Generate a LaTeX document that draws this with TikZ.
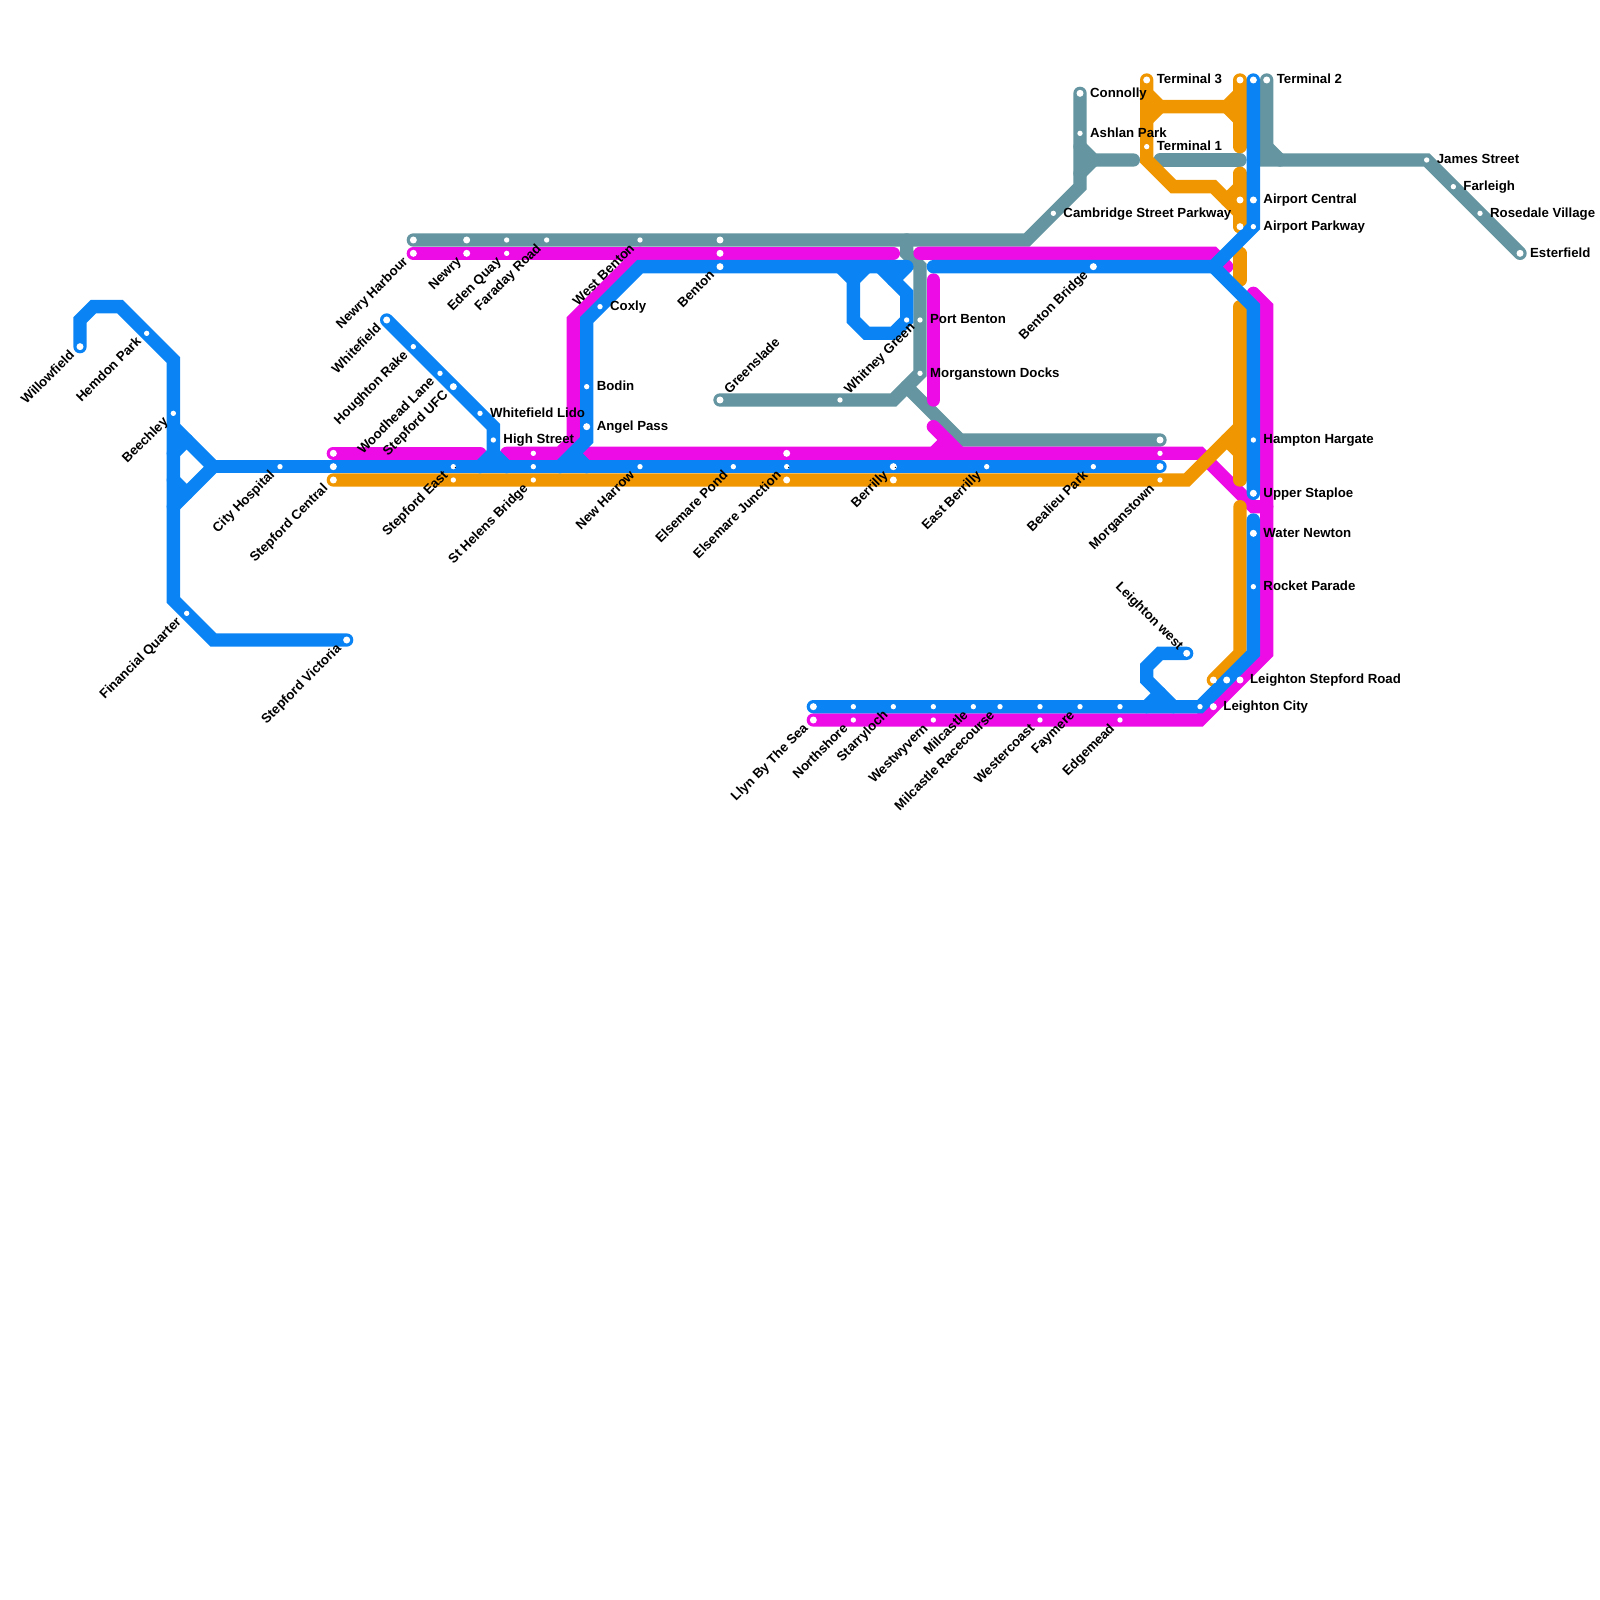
\documentclass[tikz,border=0pt]{standalone}
\usepackage{fontspec}
\setmainfont{Liberation Sans}
\usetikzlibrary{backgrounds}
\definecolor{C1}{RGB}{10,132,245}
\definecolor{C2}{RGB}{238,12,230}
\definecolor{C3}{RGB}{240,150,0}
\definecolor{C4}{RGB}{100,149,160}
\tikzset{
  ln/.style={line width=0.2cm, line cap=round, line join=miter},
  blueln/.style={ln, draw=C1},
  pinkln/.style={ln, draw=C2},
  orangeln/.style={ln, draw=C3},
  greyln/.style={ln, draw=C4},
  bigstop/.style={circle, fill=white, inner sep=0pt, minimum size=0.105cm},
  stop/.style={circle, fill=white, inner sep=0pt, minimum size=0.08cm},
  speck/.style={circle, fill=black, inner sep=0pt, minimum size=0.018cm},
  tag/.style={inner sep=0pt, text=black, font=\fontsize{5.65}{6}\selectfont\bfseries},
  tagr/.style={tag, anchor=base west, xshift=0.145cm, yshift=-0.057cm},
  tagl/.style={tag, anchor=base east, rotate=45, xshift=-0.1425cm, yshift=-0.0475cm},
  tagu/.style={tag, anchor=base west, rotate=45, xshift=0.155cm, yshift=-0.04cm},
  tagd/.style={tag, anchor=base east, rotate=-45, xshift=-0.1145cm, yshift=-0.0605cm}
}
\begin{document}
\begin{tikzpicture}[x=0.2cm, y=-0.2cm]
\useasboundingbox (0,0) rectangle (120,120);

% stations on the west side
\node[bigstop] (willowfield) at (6,26) {};
\node[stop] (hemdon) at (11,25) {};
\node[stop] (beechley) at (13,31) {};
\node[stop] (cityhosp) at (21,35) {};
\node[bigstop] (stepcentralm) at (25,34) {};
\node[bigstop] (stepcentralb) at (25,35) {};
\node[bigstop] (stepcentralo) at (25,36) {};
\node[stop] (finquarter) at (14,46) {};
\node[bigstop] (stepvictoria) at (26,48) {};
\node[bigstop] (whitefield) at (29,24) {};
\node[stop] (houghton) at (31,26) {};
\node[stop] (woodhead) at (33,28) {};
\node[bigstop] (stepufc) at (34,29) {};
\node[stop] (lido) at (36,31) {};
\node[stop] (highst) at (37,33) {};
\node[stop] (stepeastb) at (34,35) {};
\node[stop] (stepeasto) at (34,36) {};
\node[speck] (stepeasts) at (34.15,35.05) {};
\node[stop] (helensm) at (40,34) {};
\node[stop] (helensb) at (40,35) {};
\node[stop] (helenso) at (40,36) {};

% stations along the top
\node[bigstop] (newryhg) at (31,18) {};
\node[bigstop] (newryhm) at (31,19) {};
\node[bigstop] (newryg) at (35,18) {};
\node[bigstop] (newrym) at (35,19) {};
\node[stop] (edeng) at (38,18) {};
\node[stop] (edenm) at (38,19) {};
\node[stop] (faraday) at (41,18) {};
\node[stop] (westbenton) at (48,18) {};
\node[bigstop] (bentong) at (54,18) {};
\node[bigstop] (bentonm) at (54,19) {};
\node[bigstop] (bentonb) at (54,20) {};
\node[stop] (coxly) at (45,23) {};
\node[stop] (bodin) at (44,29) {};
\node[bigstop] (angel) at (44,32) {};

% stations along the middle
\node[stop] (newharrow) at (48,35) {};
\node[stop] (elspond) at (55,35) {};
\node[bigstop] (elsjuncm) at (59,34) {};
\node[stop] (elsjuncb) at (59,35) {};
\node[bigstop] (elsjunco) at (59,36) {};
\node[speck] (elsjuncs) at (59.15,35.05) {};
\node[bigstop] (berrillyb) at (67,35) {};
\node[bigstop] (berrillyo) at (67,36) {};
\node[speck] (berrillys) at (67.15,35.05) {};
\node[stop] (eastberrilly) at (74,35) {};
\node[stop] (bealieu) at (82,35) {};
\node[bigstop] (morgang) at (87,33) {};
\node[stop] (morganm) at (87,34) {};
\node[bigstop] (morganb) at (87,35) {};
\node[stop] (morgano) at (87,36) {};
\node[bigstop] (greenslade) at (54,30) {};
\node[stop] (whitney) at (63,30) {};
\node[stop] (portbentonb) at (68,24) {};
\node[stop] (portbenton) at (69,24) {};
\node[stop] (docks) at (69,28) {};
\node[bigstop] (bentonbridge) at (82,20) {};

% stations at the airport
\node[stop] (cambridge) at (79,16) {};
\node[bigstop] (connolly) at (81,7) {};
\node[stop] (ashlan) at (81,10) {};
\node[bigstop] (terminalc) at (86,6) {};
\node[stop] (terminala) at (86,11) {};
\node[bigstop] (terminalbo) at (93,6) {};
\node[bigstop] (terminalbb) at (94,6) {};
\node[bigstop] (terminalb) at (95,6) {};
\node[bigstop] (aircentralo) at (93,15) {};
\node[bigstop] (aircentral) at (94,15) {};
\node[bigstop] (airparkwayo) at (93,17) {};
\node[stop] (airparkway) at (94,17) {};
\node[stop] (james) at (107,12) {};
\node[stop] (farleigh) at (109,14) {};
\node[stop] (rosedale) at (111,16) {};
\node[bigstop] (esterfield) at (114,19) {};

% stations on the east and south side
\node[stop] (hampton) at (94,33) {};
\node[bigstop] (staploe) at (94,37) {};
\node[bigstop] (water) at (94,40) {};
\node[stop] (rocket) at (94,44) {};
\node[bigstop] (leightonw) at (89,49) {};
\node[bigstop] (leightonso) at (91,51) {};
\node[bigstop] (leightonsb) at (92,51) {};
\node[bigstop] (leightons) at (93,51) {};
\node[stop] (leightonc) at (90,53) {};
\node[bigstop] (leightoncm) at (91,53) {};
\node[bigstop] (llynb) at (61,53) {};
\node[bigstop] (llynm) at (61,54) {};
\node[stop] (northb) at (64,53) {};
\node[stop] (northm) at (64,54) {};
\node[stop] (starry) at (67,53) {};
\node[stop] (westwb) at (70,53) {};
\node[stop] (westwm) at (70,54) {};
\node[stop] (milcastle) at (73,53) {};
\node[stop] (racecourse) at (75,53) {};
\node[stop] (westcb) at (78,53) {};
\node[stop] (westcm) at (78,54) {};
\node[stop] (faymere) at (81,53) {};
\node[stop] (edgeb) at (84,53) {};
\node[stop] (edgem) at (84,54) {};

\begin{scope}[on background layer]
% grey
\draw[greyln] (newryhg.center) -- (77,18) -- (81,14) -- (connolly.center);
\draw[greyln] (81,11) -- (82,12) -- (85,12);
\draw[greyln] (81,13) -- (82,12);
\draw[greyln] (87,12) -- (93,12);
\draw[greyln] (terminalb.center) -- (95,12) -- (james.center) -- (esterfield.center);
\draw[greyln] (95,11) -- (96,12);
\draw[greyln] (68,18) -- (68,19) -- (69,20) -- (69,28) -- (67,30) -- (greenslade.center);
\draw[greyln] (68,29) -- (72,33) -- (morgang.center);
% magenta
\draw[pinkln] (newryhm.center) -- (67,19);
\draw[pinkln] (48,19) -- (43,24) -- (43,33) -- (42,34) -- (38,34);
\draw[pinkln] (69,19) -- (91,19) -- (92,20);
\draw[pinkln] (stepcentralm.center) -- (36,34);
\draw[pinkln] (44,34) -- (90,34) -- (94,38) -- (95,38);
\draw[pinkln] (70,21) -- (70,30);
\draw[pinkln] (70,32) -- (72,34);
\draw[pinkln] (70,34) -- (71,33);
\draw[pinkln] (94,22) -- (95,23) -- (95,49) -- (90,54) -- (llynm.center);
% orange
\draw[orangeln] (stepcentralo.center) -- (89,36) -- (93,32);
\draw[orangeln] (93,23) -- (93,36);
\draw[orangeln] (92,33) -- (93,34);
\draw[orangeln] (93,38) -- (93,49) -- (leightonso.center);
\draw[orangeln] (93,19) -- (93,21);
\draw[orangeln] (terminalc.center) -- (86,7) -- (87,8) -- (92,8) -- (93,7);
\draw[orangeln] (terminalbo.center) -- (93,11);
\draw[orangeln] (92,8) -- (93,9);
\draw[orangeln] (86,7) -- (86,12) -- (88,14) -- (91,14) -- (93,16) -- (airparkwayo.center);
\draw[orangeln] (87,8) -- (86,9);
\draw[orangeln] (93,13) -- (airparkwayo.center);
\draw[orangeln] (92,15) -- (93,14);
% blue
\draw[blueln] (willowfield.center) -- (6,24) -- (7,23) -- (9,23) -- (13,27) -- (13,45) -- (16,48) -- (stepvictoria.center);
\draw[blueln] (13,32) -- (16,35) -- (13,38);
\draw[blueln] (13,34) -- (14,33);
\draw[blueln] (13,36) -- (14,37);
\draw[blueln] (16,35) -- (morganb.center);
\draw[blueln] (whitefield.center) -- (37,32) -- (37,34);
\draw[blueln] (36,35) -- (37,34) -- (38,35);
\draw[blueln] (42,35) -- (44,33) -- (44,24) -- (48,20) -- (68,20);
\draw[blueln] (68,20) -- (67,21);
\draw[blueln] (43,34) -- (44,35);
\draw[blueln] (63,20) -- (64,21) -- (64,24) -- (65,25) -- (67,25) -- (68,24) -- (68,22) -- (66,20);
\draw[blueln] (64,21) -- (65,20);
\draw[blueln] (70,20) -- (91,20) -- (94,17) -- (terminalbb.center);
\draw[blueln] (91,20) -- (94,23) -- (staploe.center);
\draw[blueln] (94,39) -- (94,49) -- (90,53) -- (llynb.center);
\draw[blueln] (leightonw.center) -- (87,49) -- (86,50) -- (86,51) -- (88,53);
\draw[blueln] (86,53) -- (87,52);
\end{scope}

% labels to the right of their stop
\node[tagr] (t1) at (lido) {Whitefield Lido};
\node[tagr] (t2) at (highst) {High Street};
\node[tagr] (t3) at (coxly) {Coxly};
\node[tagr] (t4) at (bodin) {Bodin};
\node[tagr] (t5) at (angel) {Angel Pass};
\node[tagr] (t6) at (portbenton) {Port Benton};
\node[tagr] (t7) at (docks) {Morganstown Docks};
\node[tagr] (t8) at (cambridge) {Cambridge Street Parkway};
\node[tagr] (t9) at (connolly) {Connolly};
\node[tagr] (t10) at (ashlan) {Ashlan Park};
\node[tagr] (t11) at (terminalc) {Terminal 3};
\node[tagr] (t12) at (terminala) {Terminal 1};
\node[tagr] (t13) at (terminalb) {Terminal 2};
\node[tagr] (t14) at (james) {James Street};
\node[tagr] (t15) at (farleigh) {Farleigh};
\node[tagr] (t16) at (rosedale) {Rosedale Village};
\node[tagr] (t17) at (esterfield) {Esterfield};
\node[tagr] (t18) at (aircentral) {Airport Central};
\node[tagr] (t19) at (airparkway) {Airport Parkway};
\node[tagr] (t20) at (hampton) {Hampton Hargate};
\node[tagr] (t21) at (staploe) {Upper Staploe};
\node[tagr] (t22) at (water) {Water Newton};
\node[tagr] (t23) at (rocket) {Rocket Parade};
\node[tagr] (t24) at (leightons) {Leighton Stepford Road};
\node[tagr] (t25) at (leightoncm) {Leighton City};

% slanted labels
\node[tagl] (t30) at (willowfield) {Willowfield};
\node[tagl] (t31) at (hemdon) {Hemdon Park};
\node[tagl] (t32) at (beechley) {Beechley};
\node[tagl] (t33) at (cityhosp) {City Hospital};
\node[tagl] (t34) at (stepcentralo) {Stepford Central};
\node[tagl] (t35) at (finquarter) {Financial Quarter};
\node[tagl] (t36) at (stepvictoria) {Stepford Victoria};
\node[tagl] (t37) at (whitefield) {Whitefield};
\node[tagl] (t38) at (houghton) {Houghton Rake};
\node[tagl] (t39) at (woodhead) {Woodhead Lane};
\node[tagl] (t40) at (stepufc) {Stepford UFC};
\node[tagl] (t41) at (stepeastb) {Stepford East};
\node[tagl] (t42) at (helenso) {St Helens Bridge};
\node[tagl] (t43) at (newryhm) {Newry Harbour};
\node[tagl] (t44) at (newrym) {Newry};
\node[tagl] (t45) at (edenm) {Eden Quay};
\node[tagl] (t46) at (faraday) {Faraday Road};
\node[tagl] (t47) at (westbenton) {West Benton};
\node[tagl] (t48) at (bentonb) {Benton};
\node[tagl] (t49) at (newharrow) {New Harrow};
\node[tagl] (t50) at (elspond) {Elsemare Pond};
\node[tagl] (t51) at (elsjuncb) {Elsemare Junction};
\node[tagl] (t52) at (berrillyb) {Berrilly};
\node[tagl] (t53) at (eastberrilly) {East Berrilly};
\node[tagl] (t54) at (bealieu) {Bealieu Park};
\node[tagl] (t55) at (morgano) {Morganstown};
\node[tagl] (t56) at (bentonbridge) {Benton Bridge};
\node[tagl] (t57) at (llynm) {Llyn By The Sea};
\node[tagl] (t58) at (northm) {Northshore};
\node[tagl] (t59) at (starry) {Starryloch};
\node[tagl] (t60) at (westwm) {Westwyvern};
\node[tagl] (t61) at (milcastle) {Milcastle};
\node[tagl] (t62) at (racecourse) {Milcastle Racecourse};
\node[tagl] (t63) at (westcm) {Westercoast};
\node[tagl] (t64) at (faymere) {Faymere};
\node[tagl] (t65) at (edgem) {Edgemead};
\node[tagu] (t66) at (greenslade) {Greenslade};
\node[tagu] (t67) at (whitney) {Whitney Green};
\node[tagd] (t68) at (leightonw) {Leighton west};
\end{tikzpicture}
\end{document}
